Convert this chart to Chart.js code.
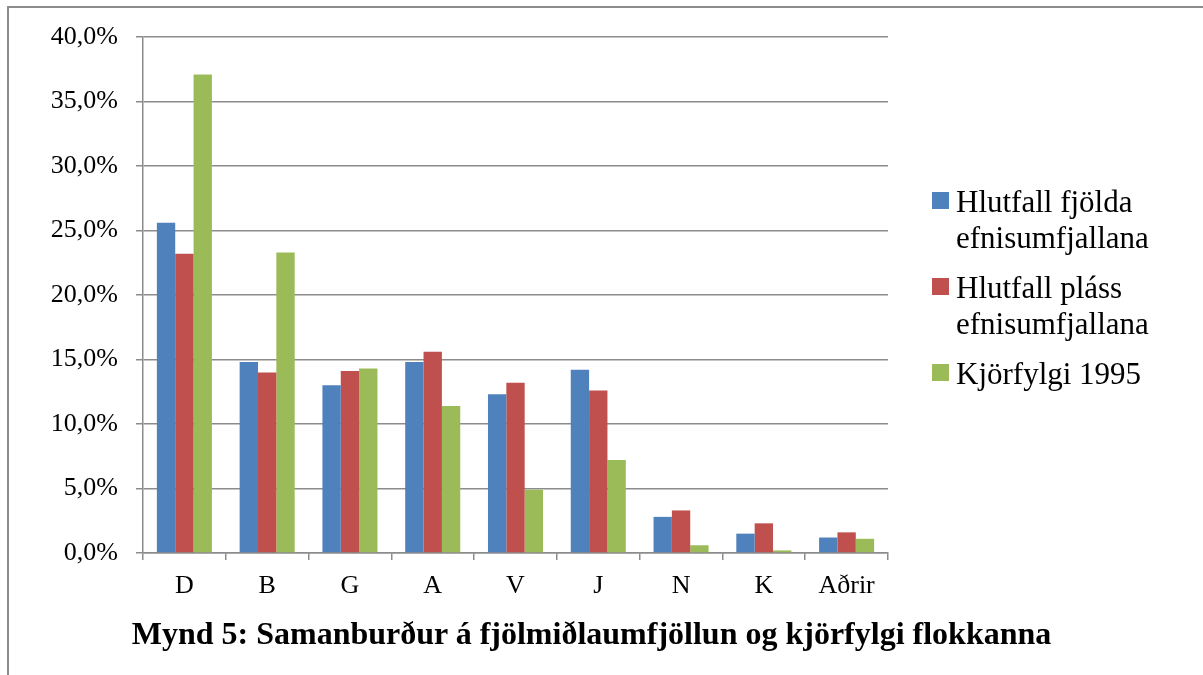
<!DOCTYPE html>
<html>
<head>
<meta charset="utf-8">
<script src="https://cdn.jsdelivr.net/npm/chart.js@4/dist/chart.umd.min.js"></script>
<style>
    html, body { margin: 0; padding: 0; background: #fff; }
    #wrap { position: relative; width: 1203px; height: 675px; overflow: hidden; font-family: 'Liberation Serif', 'Times New Roman', serif; }
    #frame { position: absolute; left: 7px; top: 6px; width: 1300px; height: 800px; border-top: 2px solid #8c8c8c; border-left: 2px solid #8c8c8c; }
    #chart { position: absolute; left: 0; top: 0; }
    #legend { position: absolute; left: 932px; top: 184px; }
    .item { display: flex; align-items: flex-start; margin-bottom: 14px; }
    .box { width: 17px; height: 17px; margin-top: 8px; margin-right: 7px; flex: none; }
    .txt { width: 230px; font-size: 31px; line-height: 36px; color: #000; }
    #title { position: absolute; left: 0; top: 615px; width: 1183px; text-align: center; font-weight: bold; font-size: 32px; color: #000; white-space: nowrap; }
</style>
</head>
<body>
<div id="wrap">
    <div id="frame"></div>
    <canvas id="chart" width="1203" height="675"></canvas>
    <div id="legend"></div>
    <div id="title">Mynd 5: Samanburður á fjölmiðlaumfjöllun og kjörfylgi flokkanna</div>
</div>
<script>
// ==================== DATA ====================
const categories = ['D', 'B', 'G', 'A', 'V', 'J', 'N', 'K', 'Aðrir'];
const seriesNames = ['Hlutfall fjölda efnisumfjallana', 'Hlutfall pláss efnisumfjallana', 'Kjörfylgi 1995'];
const fjoldi = [25.6, 14.8, 13.0, 14.8, 12.3, 14.2, 2.8, 1.5, 1.2];
const plass = [23.2, 14.0, 14.1, 15.6, 13.2, 12.6, 3.3, 2.3, 1.6];
const kjorfylgi = [37.1, 23.3, 14.3, 11.4, 4.9, 7.2, 0.6, 0.2, 1.1];
const colors = ['#4f81bd', '#c0504d', '#9bbb59'];
const yTicks = [0, 5, 10, 15, 20, 25, 30, 35, 40];

const gridColor = '#8c8c8c';
const fontFamily = "'Liberation Serif', 'Times New Roman', serif";

const seriesData = [fjoldi, plass, kjorfylgi];

const chart = new Chart(document.getElementById('chart'), {
    type: 'bar',
    data: {
        labels: categories,
        datasets: seriesData.map((d, i) => ({
            label: seriesNames[i],
            data: d,
            backgroundColor: colors[i],
            borderWidth: 0,
            barPercentage: 1,
            categoryPercentage: 0.665
        }))
    },
    options: {
        responsive: false,
        animation: false,
        layout: { padding: { left: 0, top: 37, right: 315, bottom: 0 } },
        plugins: {
            legend: { display: false },
            tooltip: { enabled: false }
        },
        scales: {
            x: {
                afterFit: function(scale) { scale.height = 122; },
                grid: { drawOnChartArea: false, drawTicks: true, tickLength: 7, color: gridColor, lineWidth: 1.5 },
                border: { color: gridColor, width: 1.5 },
                ticks: { color: '#000', font: { family: fontFamily, size: 26 }, padding: 11 }
            },
            y: {
                min: 0,
                max: 40,
                afterFit: function(scale) { scale.width = 143; },
                afterBuildTicks: function(scale) { scale.ticks = yTicks.map(v => ({ value: v })); },
                grid: { color: gridColor, lineWidth: 1.5, tickLength: 7 },
                border: { color: gridColor, width: 1.5 },
                ticks: {
                    color: '#000',
                    font: { family: fontFamily, size: 26 },
                    padding: 18,
                    callback: function(value) {
                        return value.toFixed(1).replace('.', ',') + '%';
                    }
                }
            }
        }
    }
});

// ==================== LEGEND ====================
const legendEl = document.getElementById('legend');
chart.data.datasets.forEach(ds => {
    const item = document.createElement('div');
    item.className = 'item';
    const box = document.createElement('div');
    box.className = 'box';
    box.style.background = ds.backgroundColor;
    const txt = document.createElement('div');
    txt.className = 'txt';
    txt.textContent = ds.label;
    item.appendChild(box);
    item.appendChild(txt);
    legendEl.appendChild(item);
});
</script>
</body>
</html>
